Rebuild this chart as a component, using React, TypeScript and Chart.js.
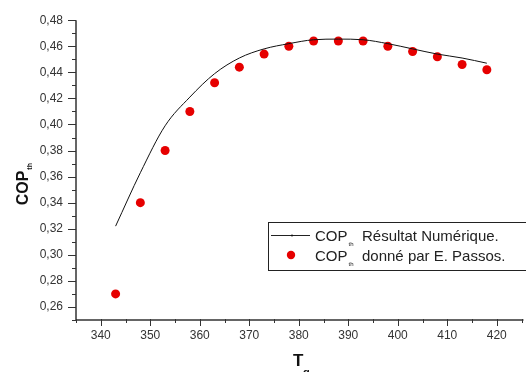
import React, { useEffect, useRef } from "react";
import { Chart, registerables } from "chart.js";

Chart.register(...registerables);

const tempValues = [343, 348, 353, 358, 363, 368, 373, 378, 383, 388, 393, 398, 403, 408, 413, 418];
const numericCOP = [0.322, 0.363, 0.399, 0.421, 0.439, 0.451, 0.458, 0.462, 0.465, 0.4655, 0.465, 0.462, 0.458, 0.454, 0.451, 0.447];
const passosCOP = [0.27, 0.34, 0.38, 0.41, 0.432, 0.444, 0.454, 0.46, 0.464, 0.464, 0.464, 0.46, 0.456, 0.452, 0.446, 0.442];
const xTickValues = [340, 350, 360, 370, 380, 390, 400, 410, 420];
const xMinorValues = [335, 345, 355, 365, 375, 385, 395, 405, 415, 425];
const yTickValues = [0.26, 0.28, 0.3, 0.32, 0.34, 0.36, 0.38, 0.4, 0.42, 0.44, 0.46, 0.48];
const yMinorValues = [0.25, 0.27, 0.29, 0.31, 0.33, 0.35, 0.37, 0.39, 0.41, 0.43, 0.45, 0.47];
const legendLabels = ["Résultat Numérique.", "donné par E. Passos."];

const FONT = '"Liberation Sans", Arial, sans-serif';
const AXIS = "#333";

const decoPlugin = {
  id: "deco",
  afterDraw(chart: any) {
    const ctx = chart.ctx;
    const xs = chart.scales.x;
    const ys = chart.scales.y;
    const ca = chart.chartArea;
    ctx.save();
    ctx.strokeStyle = AXIS;
    ctx.lineWidth = 1.5;
    ctx.beginPath();
    ctx.moveTo(ca.left, ca.top);
    ctx.lineTo(ca.left, ca.bottom);
    ctx.lineTo(ca.right + 2, ca.bottom);
    ctx.stroke();
    ctx.lineWidth = 1;
    ctx.beginPath();
    yTickValues.forEach((v) => {
      const y = Math.round(ys.getPixelForValue(v)) + 0.5;
      ctx.moveTo(ca.left - 8, y);
      ctx.lineTo(ca.left, y);
    });
    yMinorValues.forEach((v) => {
      const y = Math.round(ys.getPixelForValue(v)) + 0.5;
      ctx.moveTo(ca.left - 4, y);
      ctx.lineTo(ca.left, y);
    });
    xTickValues.forEach((v) => {
      const x = Math.round(xs.getPixelForValue(v)) + 0.5;
      ctx.moveTo(x, ca.bottom - 1);
      ctx.lineTo(x, ca.bottom + 6);
    });
    xMinorValues.forEach((v) => {
      const x = Math.round(xs.getPixelForValue(v)) + 0.5;
      ctx.moveTo(x, ca.bottom - 1);
      ctx.lineTo(x, ca.bottom + 3);
    });
    ctx.stroke();

    ctx.fillStyle = "#111";
    ctx.save();
    ctx.translate(28, 188);
    ctx.rotate(-Math.PI / 2);
    ctx.font = "bold 16px " + FONT;
    ctx.textAlign = "center";
    ctx.textBaseline = "alphabetic";
    ctx.fillText("COP", 0, 0);
    const w = ctx.measureText("COP").width;
    ctx.font = "bold 7px " + FONT;
    ctx.textAlign = "left";
    ctx.fillText("th", w / 2 + 1, 4);
    ctx.restore();

    ctx.font = "bold 17px " + FONT;
    ctx.textAlign = "left";
    ctx.textBaseline = "alphabetic";
    ctx.fillText("T", 293, 366);
    ctx.font = "bold 11px " + FONT;
    ctx.fillText("g", 303, 376);

    const bx = 268, by = 222, bw = 262, bh = 48;
    ctx.strokeStyle = "#222";
    ctx.lineWidth = 1;
    ctx.strokeRect(bx + 0.5, by + 0.5, bw, bh);
    ctx.beginPath();
    ctx.moveTo(271, 235.5);
    ctx.lineTo(310, 235.5);
    ctx.stroke();
    ctx.fillStyle = "#111";
    ctx.beginPath();
    ctx.arc(292, 235.5, 1, 0, Math.PI * 2);
    ctx.fill();
    ctx.fillStyle = "rgb(230,0,0)";
    ctx.beginPath();
    ctx.arc(291, 255, 4.2, 0, Math.PI * 2);
    ctx.fill();
    ctx.fillStyle = "#222";
    const rows = [241, 261];
    rows.forEach((yb, i) => {
      ctx.font = "15px " + FONT;
      ctx.fillText("COP", 315, yb);
      const cw = ctx.measureText("COP").width;
      ctx.font = "6px " + FONT;
      ctx.fillText("th", 315 + cw + 1, yb + 5);
      ctx.font = "15px " + FONT;
      ctx.fillText(legendLabels[i], 362, yb);
    });
    ctx.restore();
  },
};

export default function App() {
  const ref = useRef<HTMLCanvasElement>(null);
  useEffect(() => {
    document.body.style.margin = "0";
    const chart = new Chart(ref.current!, {
      type: "line",
      data: {
        datasets: [
          {
            label: "numeric",
            data: tempValues.map((t, i) => ({ x: t, y: numericCOP[i] })),
            borderColor: "#111",
            borderWidth: 1,
            pointRadius: 0,
            cubicInterpolationMode: "monotone",
            fill: false,
          },
          {
            label: "passos",
            data: tempValues.map((t, i) => ({ x: t, y: passosCOP[i] })),
            showLine: false,
            pointRadius: 4.5,
            pointBackgroundColor: "rgb(230,0,0)",
            pointBorderColor: "rgb(230,0,0)",
            pointBorderWidth: 0,
          },
        ],
      },
      options: {
        responsive: false,
        animation: false,
        devicePixelRatio: 1,
        layout: { padding: { top: 17, right: 1, left: 0, bottom: 0 } },
        plugins: { legend: { display: false }, tooltip: { enabled: false } },
        scales: {
          x: {
            type: "linear",
            min: 335,
            max: 425,
            grid: { display: false, drawTicks: false },
            border: { display: false },
            afterBuildTicks: (s: any) => {
              s.ticks = xTickValues.map((v) => ({ value: v }));
            },
            afterFit: (s: any) => {
              s.height = 52;
            },
            ticks: {
              padding: 8,
              maxRotation: 0,
              autoSkip: false,
              color: "#333",
              font: { family: FONT, size: 12 },
              callback: (v: any) => String(v),
            },
          },
          y: {
            type: "linear",
            min: 0.25,
            max: 0.48,
            grid: { display: false, drawTicks: false },
            border: { display: false },
            afterBuildTicks: (s: any) => {
              s.ticks = yTickValues.map((v) => ({ value: v }));
            },
            afterFit: (s: any) => {
              s.width = 76;
            },
            ticks: {
              padding: 13,
              autoSkip: false,
              color: "#333",
              font: { family: FONT, size: 12 },
              callback: (v: any) => Number(v).toFixed(2).replace(".", ","),
            },
          },
        },
      },
      plugins: [decoPlugin],
    } as any);
    return () => chart.destroy();
  }, []);
  return (
    <div style={{ position: "fixed", left: 0, top: 0, width: 526, height: 372, background: "#fff" }}>
      <canvas ref={ref} width={526} height={372} style={{ width: 526, height: 372 }} />
    </div>
  );
}
